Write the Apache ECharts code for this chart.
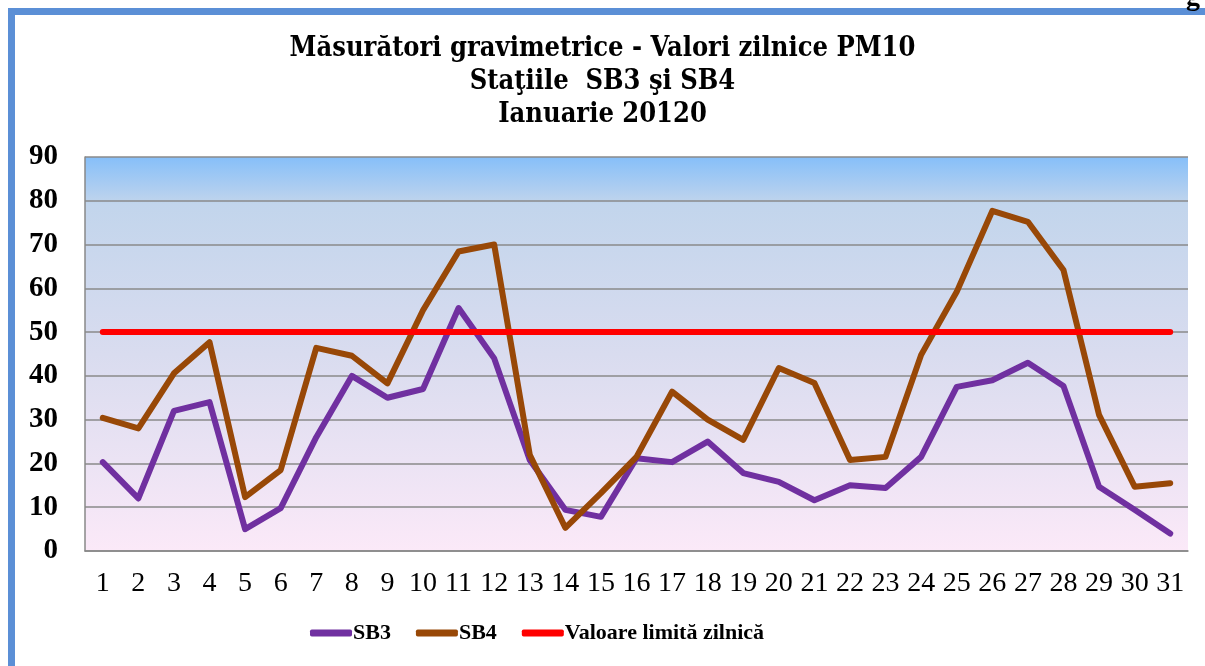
<!DOCTYPE html>
<html>
<head>
  <meta charset="utf-8">
  <script src="https://cdn.jsdelivr.net/npm/echarts@6/dist/echarts.min.js"></script>
  <style>
    html, body { margin: 0; padding: 0; background: #fff; }
  </style>
</head>
<body>
<div id="main" style="width: 1205px; height: 666px"></div>
<script>
  const days = ['1', '2', '3', '4', '5', '6', '7', '8', '9', '10', '11', '12', '13', '14', '15', '16',
    '17', '18', '19', '20', '21', '22', '23', '24', '25', '26', '27', '28', '29', '30', '31'];
  const sb3 = [20.3, 12, 32, 34, 5, 9.8, 26, 40, 35, 37, 55.5, 44, 20.8, 9.4, 7.8, 21.2,
    20.3, 25, 17.8, 15.8, 11.6, 15, 14.4, 21.5, 37.5, 39, 43, 37.7, 14.7, 9.4, 4];
  const sb4 = [30.4, 28, 40.6, 47.7, 12.3, 18.5, 46.4, 44.6, 38.3, 55, 68.4, 70, 22, 5.3, 13.2, 21.5,
    36.4, 30, 25.4, 41.8, 38.4, 20.8, 21.5, 44.8, 59.2, 77.7, 75.2, 64.2, 31.1, 14.7, 15.5];
  const limit = days.map(() => 50);

  const serif = '"Liberation Serif", "DejaVu Serif", serif';
  const myChart = echarts.init(document.getElementById('main'));

  myChart.setOption({
    animation: false,
    title: {
      text: 'Măsurători gravimetrice - Valori zilnice PM10\nStaţiile  SB3 şi SB4\nIanuarie 20120',
      left: 'center',
      top: 27,
      textStyle: {
        fontFamily: '"DejaVu Serif Condensed", "DejaVu Serif", serif',
        fontWeight: 'bold',
        fontSize: 27,
        lineHeight: 33,
        color: '#000'
      }
    },
    graphic: [
      { type: 'rect', shape: { x: 8, y: 8, width: 1197, height: 7 }, style: { fill: '#5b8fd6' } },
      { type: 'rect', shape: { x: 8, y: 8, width: 7, height: 658 }, style: { fill: '#5b8fd6' } },
      { type: 'text', x: 1186, y: -16, style: { text: 'g', font: 'bold 28px ' + serif, fill: '#000' } }
    ],
    legend: {
      bottom: 17,
      left: 305,
      itemWidth: 42,
      itemHeight: 7,
      itemGap: 25,
      icon: 'roundRect',
      textStyle: { fontFamily: serif, fontWeight: 'bold', fontSize: 22, color: '#000', padding: [0, 0, 0, -4] },
      data: ['SB3', 'SB4', 'Valoare limită zilnică']
    },
    grid: {
      left: 85,
      right: 17,
      top: 157,
      bottom: 115,
      show: true,
      borderWidth: 0,
      backgroundColor: new echarts.graphic.LinearGradient(0, 0, 0, 1, [
        { offset: 0, color: '#86bff9' },
        { offset: 0.12, color: '#c2d5ec' },
        { offset: 0.5, color: '#d9dcef' },
        { offset: 1, color: '#fbe9f8' }
      ])
    },
    xAxis: {
      type: 'category',
      data: days,
      boundaryGap: true,
      axisLine: { show: true, lineStyle: { color: '#888', width: 1.5 } },
      axisTick: { show: false },
      axisLabel: { fontFamily: serif, fontSize: 28, color: '#000', margin: 19, interval: 0 }
    },
    yAxis: {
      type: 'value',
      min: 0,
      max: 90,
      interval: 10,
      axisLine: { show: true, lineStyle: { color: '#888', width: 1.5 } },
      axisTick: { show: false },
      splitLine: { lineStyle: { color: '#8a8a8a', width: 1.5 } },
      axisLabel: { fontFamily: serif, fontWeight: 'bold', fontSize: 29, color: '#000', margin: 27 }
    },
    series: [
      {
        name: 'SB3', type: 'line', data: sb3, symbol: 'none',
        lineStyle: { color: '#7030a0', width: 6, cap: 'round', join: 'round' },
        itemStyle: { color: '#7030a0' }
      },
      {
        name: 'SB4', type: 'line', data: sb4, symbol: 'none',
        lineStyle: { color: '#984807', width: 6, cap: 'round', join: 'round' },
        itemStyle: { color: '#984807' }
      },
      {
        name: 'Valoare limită zilnică', type: 'line', data: limit, symbol: 'none',
        lineStyle: { color: '#ff0000', width: 6, cap: 'round' },
        itemStyle: { color: '#ff0000' }
      }
    ]
  });
</script>
</body>
</html>
